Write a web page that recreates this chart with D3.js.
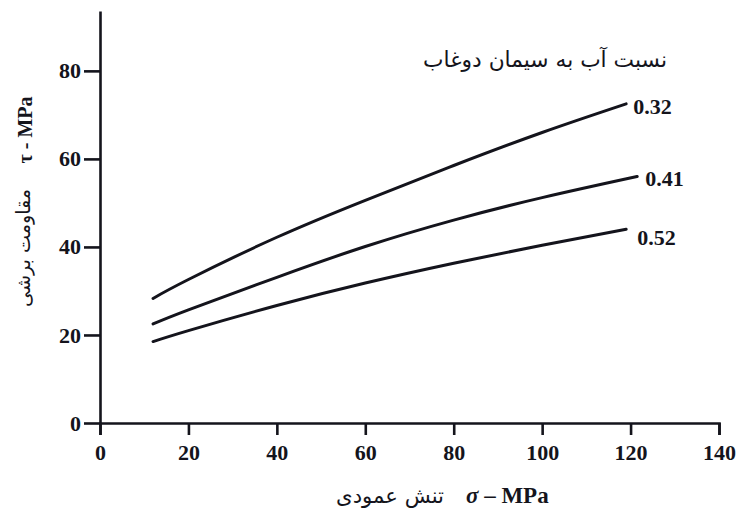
<!DOCTYPE html>
<html>
<head>
<meta charset="utf-8">
<script src="https://cdn.jsdelivr.net/npm/d3@7"></script>
<style>
  html, body { margin: 0; padding: 0; background: #fff; }
  svg { display: block; }
</style>
</head>
<body>
<svg id="chart" width="744" height="514"></svg>
<script>
// ---- data ----
const seriesNames = ["0.32", "0.41", "0.52"];
const sigma032 = [12, 20, 40, 60, 80, 100, 119];
const tau032   = [28.3, 32.6, 42.2, 50.6, 58.5, 66.0, 72.5];
const sigma041 = [12, 20, 40, 60, 80, 100, 121.5];
const tau041   = [22.5, 25.7, 33.1, 40.1, 46.1, 51.2, 56.0];
const sigma052 = [12, 20, 40, 60, 80, 100, 119];
const tau052   = [18.5, 21.0, 26.7, 31.8, 36.3, 40.4, 44.0];
const xTicks = [0, 20, 40, 60, 80, 100, 120, 140];
const yTicks = [0, 20, 40, 60, 80];
const legendTitle = "نسبت آب به سیمان دوغاب";
const xTitleFa = "تنش عمودی";
const yTitleFa = "مقاومت برشی";

// ---- layout ----
const ink = "#14141c";
const numFont = "'Liberation Serif', 'Times New Roman', serif";
const faFont = "'DejaVu Sans', sans-serif";
const svg = d3.select("#chart");
svg.append("rect").attr("width", 744).attr("height", 514).attr("fill", "#fff");

const x = d3.scaleLinear().domain([0, 140]).range([100, 719]);
const y = d3.scaleLinear().domain([0, 93.6]).range([423, 11]);

// axes
const xAxis = d3.axisBottom(x).tickValues(xTicks).tickSize(12).tickSizeOuter(12).tickPadding(9)
  .tickFormat(d3.format("d"));
const yAxis = d3.axisLeft(y).tickValues(yTicks).tickSize(16).tickSizeOuter(0).tickPadding(3)
  .tickFormat(d3.format("d"));

const gx = svg.append("g").attr("transform", `translate(0,${y(0)})`).call(xAxis);
const gy = svg.append("g").attr("transform", `translate(${x(0)},0)`).call(yAxis);
[gx, gy].forEach(g => {
  g.selectAll("path, line").attr("stroke", ink).attr("stroke-width", 2.6);
  g.selectAll("text").attr("fill", ink).attr("font-family", numFont)
    .attr("font-weight", "bold").attr("font-size", 22);
});

// curves
const series = [
  { name: seriesNames[0], xs: sigma032, ys: tau032, dx: 7, dy: 10 },
  { name: seriesNames[1], xs: sigma041, ys: tau041, dx: 8, dy: 9 },
  { name: seriesNames[2], xs: sigma052, ys: tau052, dx: 11, dy: 16 }
];
const line = d3.line().x(d => x(d[0])).y(d => y(d[1])).curve(d3.curveNatural);
series.forEach(s => {
  const pts = s.xs.map((v, i) => [v, s.ys[i]]);
  svg.append("path").attr("d", line(pts)).attr("fill", "none")
    .attr("stroke", ink).attr("stroke-width", 3).attr("stroke-linecap", "round");
  const last = pts[pts.length - 1];
  svg.append("text").attr("x", x(last[0]) + s.dx).attr("y", y(last[1]) + s.dy)
    .attr("font-family", numFont).attr("font-weight", "bold").attr("font-size", 22)
    .attr("fill", ink).text(s.name);
});

// helper to fit Persian text width
function fitText(sel, target) {
  const w = sel.node().getComputedTextLength();
  const fs = parseFloat(sel.attr("font-size"));
  if (w > 0) sel.attr("font-size", fs * target / w);
  return sel;
}

// legend title
fitText(svg.append("text").attr("x", 545).attr("y", 67).attr("text-anchor", "middle")
  .attr("font-family", faFont).attr("font-size", 18).attr("fill", ink)
  .text(legendTitle), 244);

// x title
fitText(svg.append("text").attr("x", 390).attr("y", 503).attr("text-anchor", "middle")
  .attr("font-family", faFont).attr("font-size", 17).attr("fill", ink)
  .text(xTitleFa), 108);
const xt = svg.append("text").attr("x", 466).attr("y", 503)
  .attr("font-family", numFont).attr("font-weight", "bold").attr("font-size", 23).attr("fill", ink);
xt.append("tspan").attr("font-style", "italic").text("σ");
xt.append("tspan").text(" – MPa");

// y title
svg.append("text").attr("transform", "translate(32,130) rotate(-90)").attr("text-anchor", "middle")
  .attr("font-family", numFont).attr("font-weight", "bold").attr("font-size", 20).attr("fill", ink)
  .text("τ - MPa");
fitText(svg.append("text").attr("transform", "translate(30,248) rotate(-90)").attr("text-anchor", "middle")
  .attr("font-family", faFont).attr("font-size", 16).attr("fill", ink)
  .text(yTitleFa), 118);
</script>
</body>
</html>
